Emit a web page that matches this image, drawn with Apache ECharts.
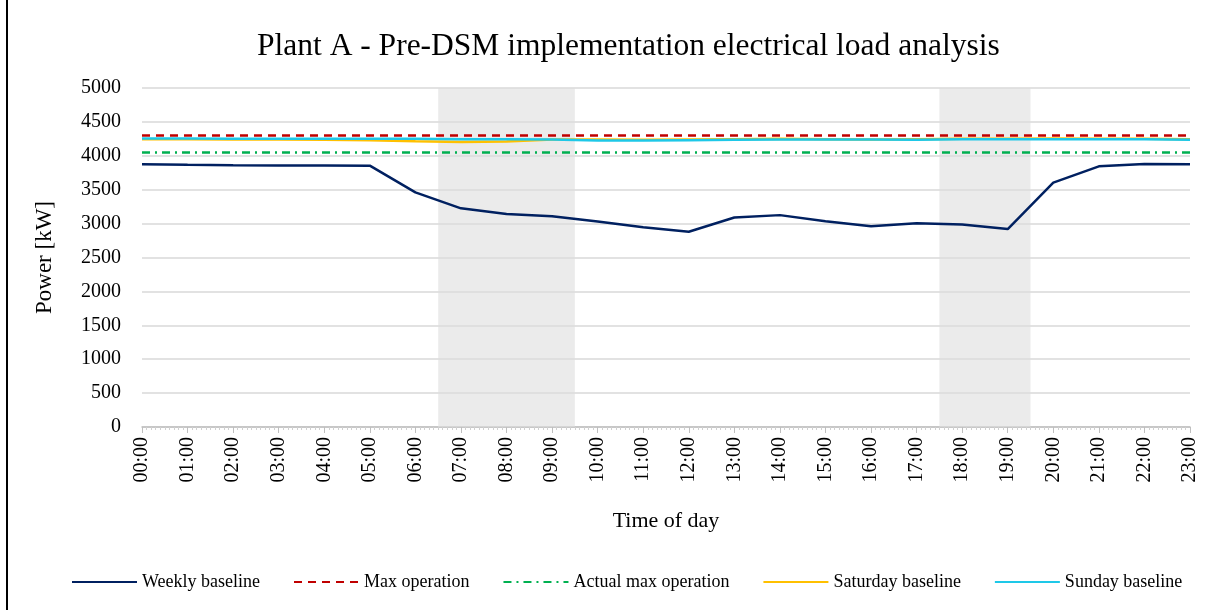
<!DOCTYPE html>
<html><head><meta charset="utf-8">
<script src="https://cdn.jsdelivr.net/npm/echarts@6/dist/echarts.min.js"></script>
<style>html,body{margin:0;padding:0;background:#fff}#c{width:1215px;height:610px}</style>
</head><body><div id="c"></div>
<script>
const hours = ['00:00','01:00','02:00','03:00','04:00','05:00','06:00','07:00','08:00','09:00','10:00','11:00','12:00','13:00','14:00','15:00','16:00','17:00','18:00','19:00','20:00','21:00','22:00','23:00'];
const weekly = [3875,3868,3862,3858,3856,3855,3460,3225,3140,3110,3030,2945,2880,3090,3125,3035,2960,3005,2985,2920,3605,3845,3880,3875];
const maxOperation = [4300,4300,4300,4300,4300,4300,4300,4300,4300,4300,4300,4300,4300,4300,4300,4300,4300,4300,4300,4300,4300,4300,4300,4300];
const actualMax = [4050,4050,4050,4050,4050,4050,4050,4050,4050,4050,4050,4050,4050,4050,4050,4050,4050,4050,4050,4050,4050,4050,4050,4050];
const saturday = [4245,4245,4240,4240,4235,4230,4215,4205,4210,4240,4240,4235,4240,4245,4250,4245,4240,4245,4250,4250,4255,4250,4250,4245];
const sunday = [4255,4255,4250,4250,4250,4250,4250,4245,4245,4240,4225,4225,4230,4235,4240,4240,4240,4235,4245,4245,4245,4245,4245,4235];
const shadedPeriods = [[6.5,9.5],[17.5,19.5]];
const yTicks = {min:0, max:5000, interval:500};

const pairs = arr => arr.map((v,i)=>[i,v]);
const serif = '"Liberation Serif","DejaVu Serif",serif';
const chart = echarts.init(document.getElementById('c'), null, {renderer:'canvas'});
chart.setOption({
  animation:false,
  backgroundColor:'#fff',
  title:{text:'Plant A - Pre-DSM implementation electrical load analysis',left:252,top:26,
    textStyle:{fontFamily:serif,fontSize:31.5,fontWeight:'normal',color:'#000'}},
  grid:{left:142,right:25,top:88,bottom:183},
  legend:{bottom:14,left:66,itemWidth:65,itemHeight:10,itemGap:33,
    itemStyle:{opacity:0},
    textStyle:{fontFamily:serif,fontSize:18,color:'#000'},
    data:['Weekly baseline','Max operation','Actual max operation','Saturday baseline','Sunday baseline']},
  xAxis:{type:'value',min:0,max:23,interval:1,
    name:'Time of day',nameLocation:'middle',nameGap:83,
    nameTextStyle:{fontFamily:serif,fontSize:22,color:'#000'},
    axisLine:{show:true,lineStyle:{color:'#bfbfbf',width:1.5}},
    axisTick:{show:true,inside:false,length:6,lineStyle:{color:'#bfbfbf'}},
    minorTick:{show:true,splitNumber:10,length:3,lineStyle:{color:'#d0d0d0'}},
    splitLine:{show:false},
    axisLabel:{rotate:90,margin:10,fontFamily:serif,fontSize:20,color:'#000',
      formatter:v=>hours[Math.round(v)]||''}},
  yAxis:{type:'value',min:yTicks.min,max:yTicks.max,interval:yTicks.interval,
    name:'Power [kW]',nameLocation:'middle',nameGap:86,nameRotate:90,
    nameTextStyle:{fontFamily:serif,fontSize:23,color:'#000'},
    axisLine:{show:false},axisTick:{show:false},
    splitLine:{lineStyle:{color:'#d9d9d9',width:1.5}},
    axisLabel:{margin:21,fontFamily:serif,fontSize:20,color:'#000',formatter:v=>String(v)}},
  series:[
    {name:'Weekly baseline',type:'line',data:pairs(weekly),symbol:'none',
      lineStyle:{color:'#002060',width:2.5},itemStyle:{color:'#002060'}},
    {name:'Max operation',type:'line',data:pairs(maxOperation),symbol:'none',
      lineStyle:{color:'#c00000',width:2.5,type:[8,6]},itemStyle:{color:'#c00000'}},
    {name:'Actual max operation',type:'line',data:pairs(actualMax),symbol:'none',
      lineStyle:{color:'#00b050',width:2.5,type:[8,5,2,5]},itemStyle:{color:'#00b050'}},
    {name:'Saturday baseline',type:'line',data:pairs(saturday),symbol:'none',
      lineStyle:{color:'#ffc000',width:2.5},itemStyle:{color:'#ffc000'}},
    {name:'Sunday baseline',type:'line',data:pairs(sunday),symbol:'none',
      lineStyle:{color:'#1ec8e8',width:2.5},itemStyle:{color:'#1ec8e8'}},
    {name:'shade',type:'line',data:[],z:20,silent:true,
      markArea:{silent:true,itemStyle:{color:'rgba(222,222,222,0.6)'},
        data:shadedPeriods.map(p=>[{xAxis:p[0],yAxis:yTicks.min},{xAxis:p[1],yAxis:yTicks.max}])}}
  ],
  graphic:[{type:'line',shape:{x1:7,y1:0,x2:7,y2:610},style:{stroke:'#000',lineWidth:2}}]
});
</script></body></html>
